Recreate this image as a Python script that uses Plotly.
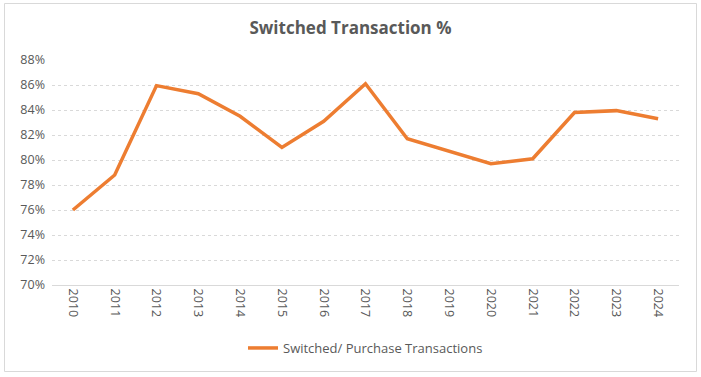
import plotly.graph_objects as go

years = ["2010", "2011", "2012", "2013", "2014", "2015", "2016", "2017",
         "2018", "2019", "2020", "2021", "2022", "2023", "2024"]
switched_pct = [0.760, 0.788, 0.8595, 0.853, 0.835, 0.810, 0.831, 0.861,
                0.817, 0.807, 0.797, 0.801, 0.838, 0.8395, 0.833]
series_name = "Switched/ Purchase Transactions"
title_text = "Switched Transaction %"

W, H = 701, 377
L, R, T, B = 52, 22, 60, 92
pw, ph = W - L - R, H - T - B

def px_x(p):
    return (p - L) / pw

def px_y(p):
    return (H - B - p) / ph

fig = go.Figure()
fig.add_trace(go.Scatter(
    x=years, y=switched_pct, mode="lines", name=series_name,
    line=dict(color="#ED7D31", width=3.5),
))

grey = "#595959"
fig.update_layout(
    width=W, height=H,
    margin=dict(l=L, r=R, t=T, b=B, autoexpand=False),
    paper_bgcolor="white", plot_bgcolor="white",
    font=dict(family="Open Sans, Noto Sans, sans-serif", color=grey, size=12),
    title=dict(text="<b>" + title_text + "</b>", x=0.5, xanchor="center",
               y=1 - 28 / H, yanchor="middle", yref="container",
               font=dict(size=17, color=grey, family="Open Sans, sans-serif")),
    showlegend=True,
    legend=dict(orientation="h", x=0.5, xanchor="center", y=px_y(348), yanchor="middle",
                font=dict(size=13, color=grey), bgcolor="rgba(0,0,0,0)"),
    xaxis=dict(type="category", range=[-0.5, len(years) - 0.5], tickangle=90,
               showgrid=False, showline=True, linecolor="#d9d9d9", linewidth=1,
               ticks="", tickfont=dict(size=12.5, color=grey), fixedrange=True,
               automargin=False),
    yaxis=dict(range=[0.70, 0.88], dtick=0.02, tickformat=".0%",
               showgrid=True, gridcolor="#d9d9d9", griddash="dot", gridwidth=1,
               zeroline=False, showline=False, ticks="", ticklabelstandoff=6,
               tickfont=dict(size=12.5, color=grey), fixedrange=True,
               automargin=False),
    shapes=[dict(type="rect", xref="paper", yref="paper",
                 x0=px_x(4.5), x1=px_x(696.5), y0=px_y(371.5), y1=px_y(3.5),
                 line=dict(color="#d9d9d9", width=1), layer="below")],
)

fig.write_html("out.html", config={"displayModeBar": False},
               post_script="document.body.style.margin='0';document.body.style.overflow='hidden';")
